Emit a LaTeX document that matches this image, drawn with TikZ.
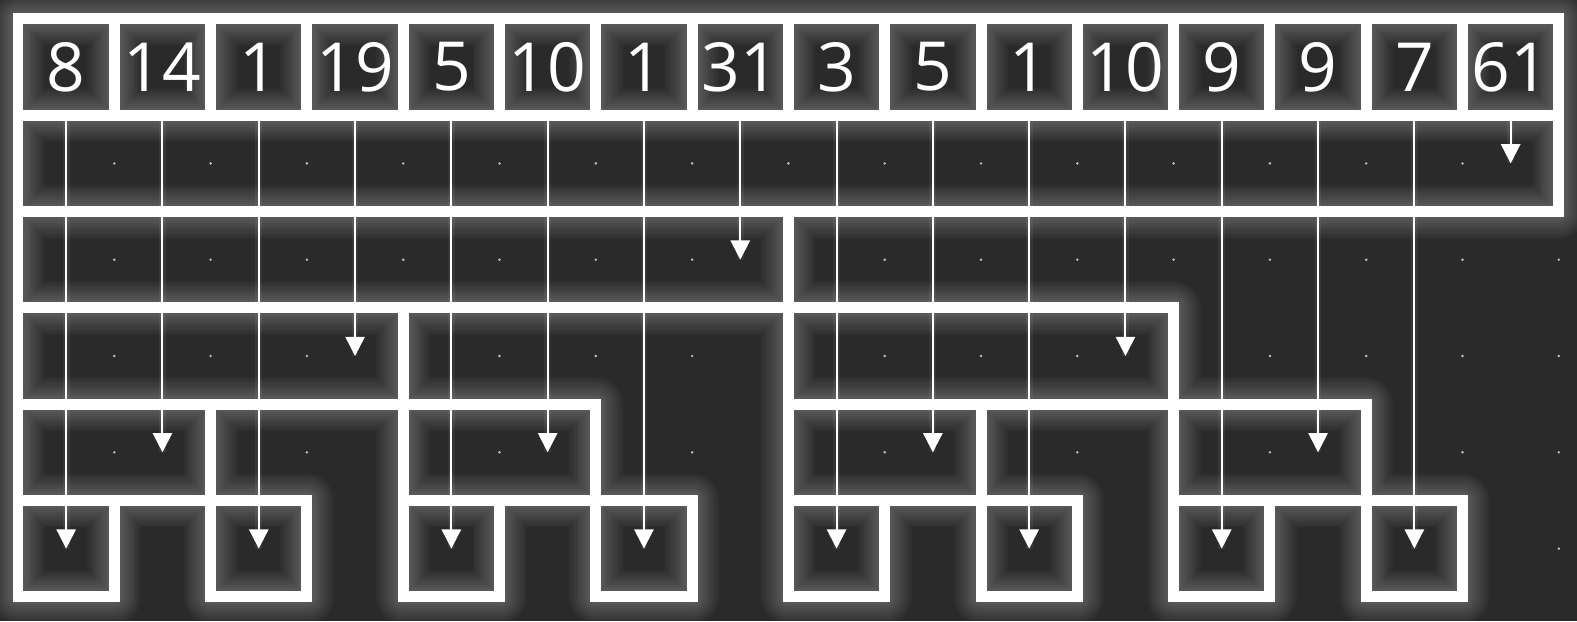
\documentclass[tikz,border=0pt]{standalone}
\usepackage{fontspec}
\setmainfont{Open Sans}
\usetikzlibrary{arrows.meta}
\definecolor{bgdark}{HTML}{2A2A2A}
\definecolor{dotgray}{HTML}{C4C4C4}
\tikzset{
  thickline/.style={draw=white, line width=0.114cm, line join=miter},
  glowline/.style={draw=white, line width=#1, line join=round, line cap=round},
  shaft/.style={draw=white, line width=0.021cm, -{Triangle[width=0.2cm,length=0.2cm]}},
  shaftglow/.style={draw=white, line width=0.07cm, opacity=0.06},
  numlabel/.style={text=white, inner sep=0pt, font=\fontsize{20}{24}\selectfont},
  griddot/.style={fill=dotgray, draw=none}
}
\begin{document}
\begin{tikzpicture}
\useasboundingbox (-0.187,-6.254) rectangle (16.189,0.197);
\fill[bgdark] (-0.187,-6.254) rectangle (16.189,0.197);
% grid dots
\foreach \x in {0,...,16}{
  \foreach \y in {1.5,2.5,3.5,4.5,5.5}{
    \fill[griddot] (\x,-\y) circle (0.014);
  }
}
% outline path
\path[save path=\boxes]
  \foreach \k in {1,...,16}{ (\k-1,0) rectangle (\k,-1) }
  (0,-1) rectangle (16,-2)
  (0,-2) rectangle (8,-3)
  (0,-3) rectangle (4,-4)
  (8,-3) rectangle (12,-4)
  (0,-4) rectangle (2,-5)
  (4,-4) rectangle (6,-5)
  (8,-4) rectangle (10,-5)
  (12,-4) rectangle (14,-5)
  \foreach \k in {1,3,...,15}{ (\k-1,-5) rectangle (\k,-6) };
% soft glow around the outlines
\foreach \w in {0.56,0.52,...,0.14}{
  \draw[glowline=\w cm, opacity=0.022, use path=\boxes];
}
% number nodes, shafts and arrow tips
\foreach \k/\d in {1/5.5, 2/4.5, 3/5.5, 4/3.5, 5/5.5, 6/4.5, 7/5.5, 8/2.5,
                   9/5.5, 10/4.5, 11/5.5, 12/3.5, 13/5.5, 14/4.5, 15/5.5, 16/1.5}{
  \coordinate (s\k) at (\k-0.5,-1);
  \coordinate (t\k) at (\k-0.5,-\d);
  \draw[shaftglow] (s\k) -- (t\k);
  \draw[shaft] (s\k) -- (t\k);
}
% thick outlines
\draw[thickline, use path=\boxes];
\foreach \k/\v in {1/8, 2/14, 3/1, 4/19, 5/5, 6/10, 7/1, 8/31,
                   9/3, 10/5, 11/1, 12/10, 13/9, 14/9, 15/7, 16/61}{
  \node[numlabel] (v\k) at (\k-0.5,-0.5) {\v};
}
\end{tikzpicture}
\end{document}
